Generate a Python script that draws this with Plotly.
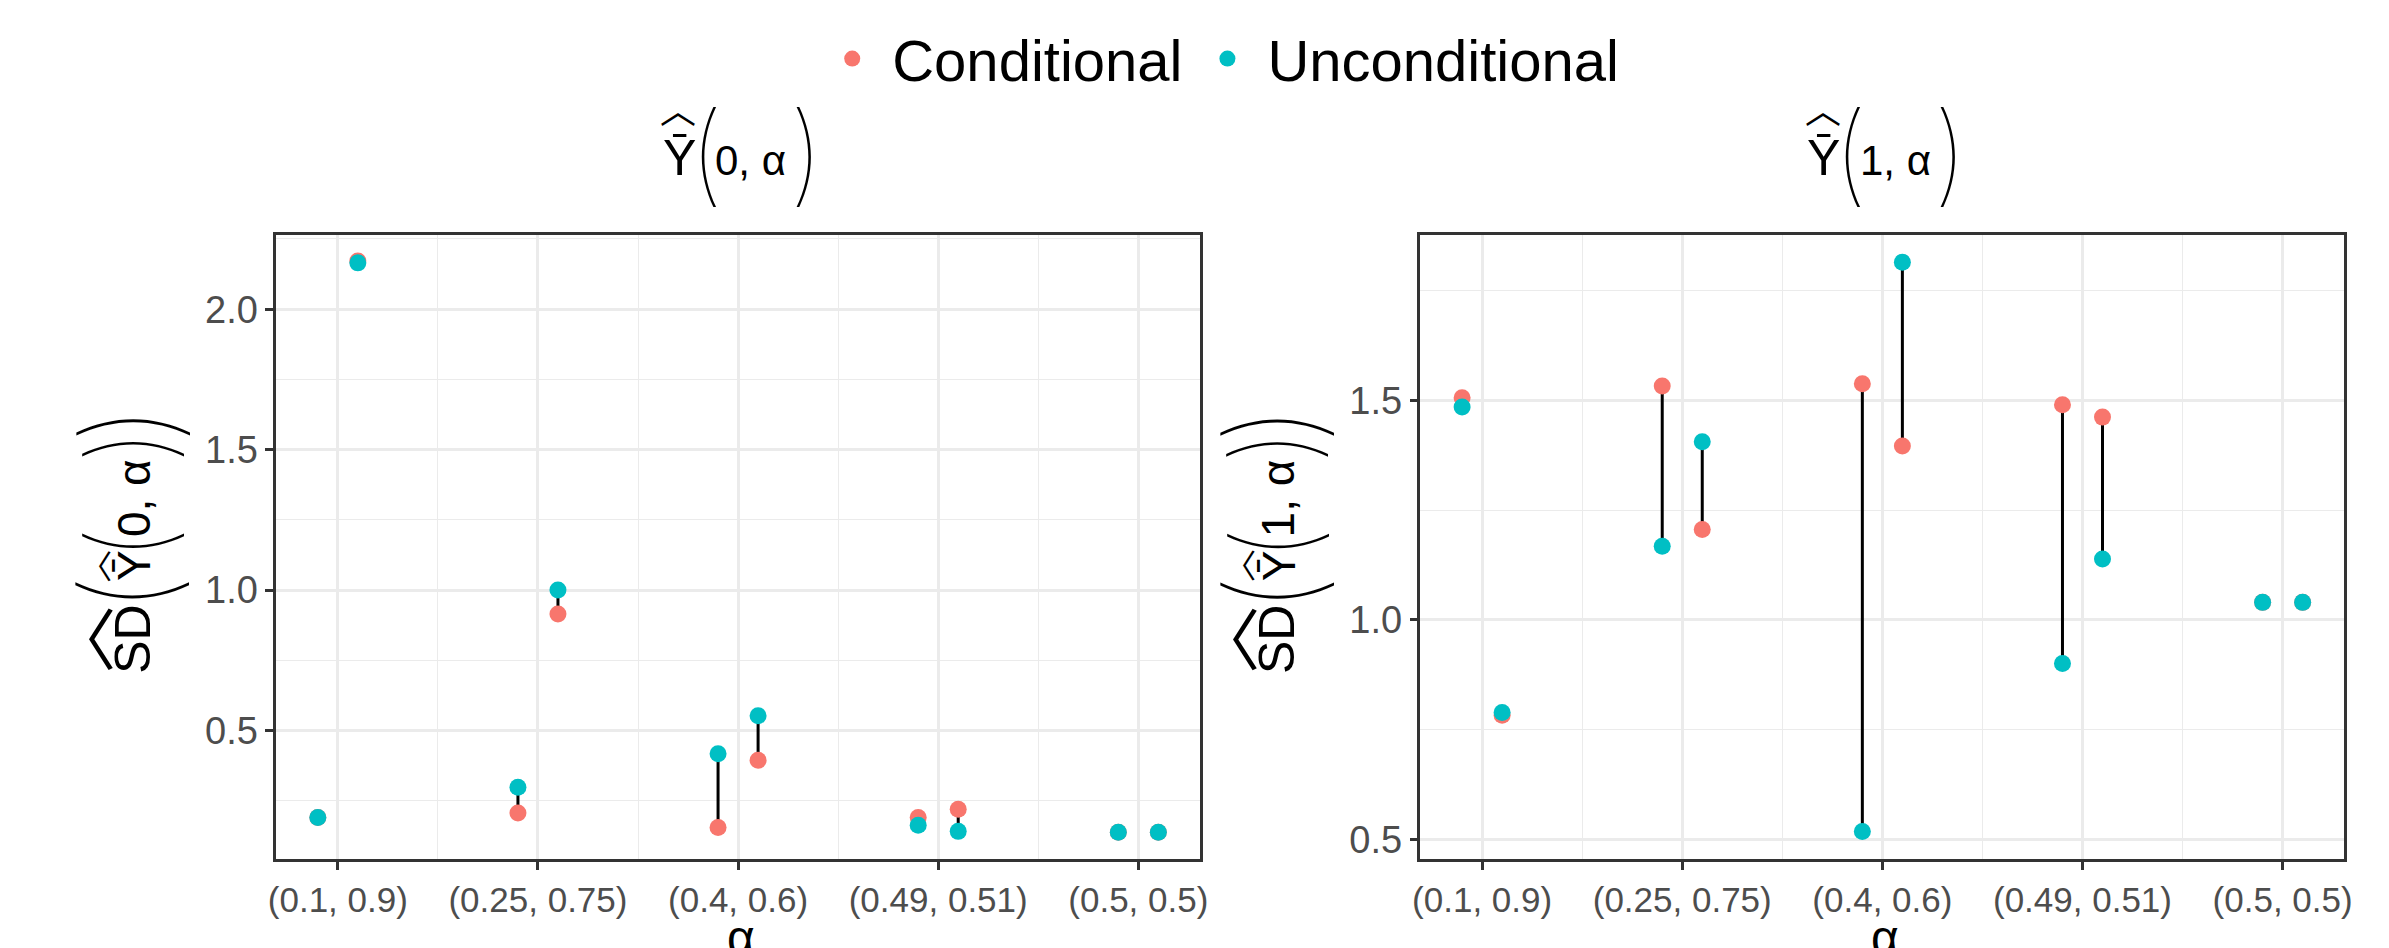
import plotly.graph_objects as go

# ---------------- data ----------------
categories = ["(0.1, 0.9)", "(0.25, 0.75)", "(0.4, 0.6)", "(0.49, 0.51)", "(0.5, 0.5)"]
series_names = ["Conditional", "Unconditional"]

# Panel 1: SD of Y(0, alpha); two dodged estimates ("a" left, "b" right) per category
cond_y0_a = [0.190, 0.206, 0.155, 0.190, 0.138]
uncond_y0_a = [0.190, 0.298, 0.417, 0.163, 0.138]
cond_y0_b = [2.172, 0.915, 0.394, 0.220, 0.138]
uncond_y0_b = [2.165, 1.000, 0.553, 0.141, 0.138]

# Panel 2: SD of Y(1, alpha)
cond_y1_a = [1.506, 1.533, 1.538, 1.490, 1.040]
uncond_y1_a = [1.485, 1.168, 0.518, 0.901, 1.040]
cond_y1_b = [0.783, 1.206, 1.396, 1.462, 1.040]
uncond_y1_b = [0.789, 1.406, 1.815, 1.139, 1.040]

y0_ticks = [0.5, 1.0, 1.5, 2.0]
y0_minor = [0.25, 0.75, 1.25, 1.75, 2.25]
y1_ticks = [0.5, 1.0, 1.5]
y1_minor = [0.75, 1.25, 1.75]

# ---------------- styling ----------------
RED = "#F8766D"
CYAN = "#00BFC4"
FONT = "Liberation Sans"
THIN = "Inter"
CJK = "Noto Sans CJK SC"
DODGE = 0.1
W, H = 2389, 948
PANEL_SHIFT = 1152  # horizontal offset of the second panel (px)


def dodged(a_vals, b_vals):
    xs, ys = [], []
    for i, (a, b) in enumerate(zip(a_vals, b_vals), start=1):
        xs += [i - DODGE, i + DODGE]
        ys += [a, b]
    return xs, ys


fig = go.Figure()

panels = [
    (cond_y0_a, cond_y0_b, uncond_y0_a, uncond_y0_b, "x", "y"),
    (cond_y1_a, cond_y1_b, uncond_y1_a, uncond_y1_b, "x2", "y2"),
]
for p, (ca, cb, ua, ub, xa, ya) in enumerate(panels):
    xc, yc = dodged(ca, cb)
    xu, yu = dodged(ua, ub)
    lx, ly = [], []
    for x1, y1, y2 in zip(xc, yc, yu):
        lx += [x1, x1, None]
        ly += [y1, y2, None]
    fig.add_trace(go.Scatter(x=lx, y=ly, mode="lines", line=dict(color="black", width=3),
                             showlegend=False, hoverinfo="skip", xaxis=xa, yaxis=ya))
    fig.add_trace(go.Scatter(x=xc, y=yc, mode="markers", name=series_names[0],
                             marker=dict(color=RED, size=17), legendgroup="c",
                             showlegend=(p == 0), xaxis=xa, yaxis=ya))
    fig.add_trace(go.Scatter(x=xu, y=yu, mode="markers", name=series_names[1],
                             marker=dict(color=CYAN, size=17), legendgroup="u",
                             showlegend=(p == 0), xaxis=xa, yaxis=ya))


def px_x(v):
    return v / W


def px_y(v):
    return 1 - v / H


common = dict(showline=True, linecolor="#333333", linewidth=2.5, mirror=True,
              ticks="outside", ticklen=8, tickwidth=2.5, tickcolor="#333333",
              showgrid=True, gridcolor="#EBEBEB", gridwidth=2.6, zeroline=False)

xcommon = dict(common, tickmode="array", tickvals=list(range(1, len(categories) + 1)),
               ticktext=categories, range=[0.692, 5.308],
               tickfont=dict(family=FONT, size=35, color="#4D4D4D"),
               minor=dict(tickvals=[1.5, 2.5, 3.5, 4.5], showgrid=True,
                          gridcolor="#EBEBEB", gridwidth=1.3, ticks=""))

fig.update_layout(
    width=W, height=H,
    margin=dict(l=0, r=0, t=0, b=0),
    paper_bgcolor="white", plot_bgcolor="white",
    xaxis=dict(xcommon, domain=[px_x(270), px_x(1200)], anchor="y"),
    xaxis2=dict(xcommon, domain=[px_x(270 + PANEL_SHIFT), px_x(1200 + PANEL_SHIFT)], anchor="y2"),
    yaxis=dict(common, domain=[px_y(861), px_y(235)], anchor="x", range=[0.042, 2.266],
               tickmode="array", tickvals=y0_ticks, ticktext=[f"{v:.1f}" for v in y0_ticks],
               tickfont=dict(family=FONT, size=38, color="#4D4D4D"),
               minor=dict(tickvals=y0_minor, showgrid=True, gridcolor="#EBEBEB",
                          gridwidth=1.3, ticks="")),
    yaxis2=dict(common, domain=[px_y(861), px_y(235)], anchor="x2", range=[0.455, 1.878],
                tickmode="array", tickvals=y1_ticks, ticktext=[f"{v:.1f}" for v in y1_ticks],
                tickfont=dict(family=FONT, size=38, color="#4D4D4D"),
                minor=dict(tickvals=y1_minor, showgrid=True, gridcolor="#EBEBEB",
                           gridwidth=1.3, ticks="")),
    legend=dict(orientation="h", x=0.510, xanchor="center", y=px_y(59), yanchor="middle",
                font=dict(family=FONT, size=58, color="black"), bgcolor="rgba(0,0,0,0)",
                itemsizing="trace", itemwidth=70),
    showlegend=True,
)


def piece(txt, x, y, size, family=FONT, weight=None, angle=0):
    f = dict(family=family, size=size, color="black")
    if weight is not None:
        f["weight"] = weight
    fig.add_annotation(text=txt, x=px_x(x), y=px_y(y), xref="paper", yref="paper",
                       xanchor="center", yanchor="middle", showarrow=False,
                       textangle=angle, font=f)


YBAR = "\u0232"   # Y with macron
HAT = "\ufe3f"    # wide hat
panel_args = ["0, α", "1, α"]

for k, arg in enumerate(panel_args):
    dx = k * PANEL_SHIFT
    # facet title  Ŷ̄(k, α)
    piece(YBAR, 676 + dx, 158, 50)
    piece(HAT, 675 + dx, 108, 36, family=CJK)
    piece("(", 703 + dx, 152, 110, family=THIN, weight=100)
    piece(arg, 748 + dx, 161, 42)
    piece(")", 804 + dx, 152, 110, family=THIN, weight=100)
    # x-axis title
    piece("α", 738 + dx, 939, 48)
    # y-axis title  SD^( Ŷ̄(k, α) )  rotated
    piece("SD", 125 + dx, 641, 50, angle=-90)
    piece(HAT, 71 + dx, 641, 66, family=CJK, angle=-90)
    piece("(", 120 + dx, 595, 125, family=THIN, weight=100, angle=-90)
    piece(YBAR, 127 + dx, 567, 46, angle=-90)
    piece(HAT, 86 + dx, 567, 32, family=CJK, angle=-90)
    piece("(", 121 + dx, 545, 112, family=THIN, weight=100, angle=-90)
    piece(arg, 127 + dx, 499, 46, angle=-90)
    piece(")", 121 + dx, 448, 112, family=THIN, weight=100, angle=-90)
    piece(")", 120 + dx, 426, 125, family=THIN, weight=100, angle=-90)

fig.write_html("out.html", config={"displayModeBar": False},
               post_script="document.body.style.margin='0px';")
